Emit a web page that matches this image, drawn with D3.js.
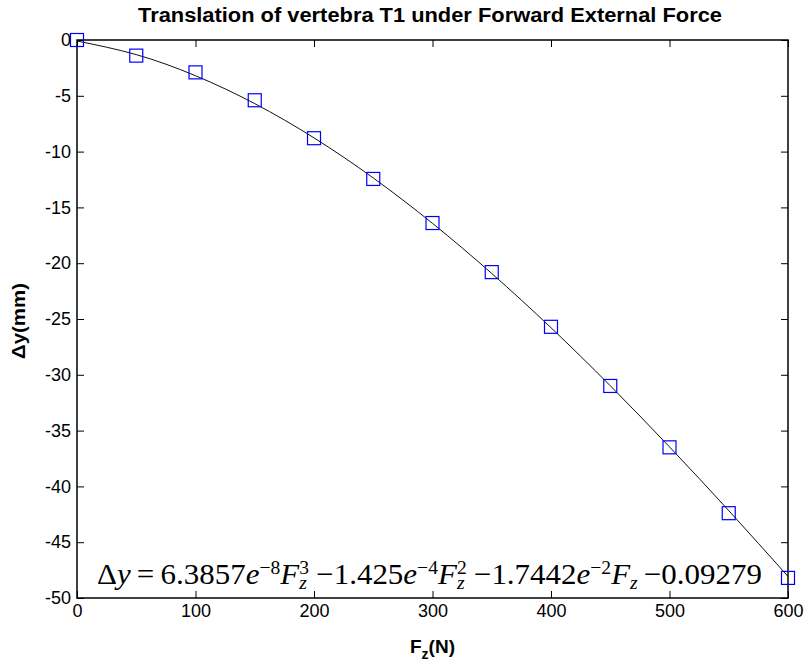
<!DOCTYPE html>
<html><head><meta charset="utf-8">
<script src="https://cdn.jsdelivr.net/npm/d3@7"></script>
<style>body{margin:0;background:#fff}</style>
</head><body>
<svg id="chart" width="808" height="664"></svg>
<script>
// ---- data ----
const forceN = [0, 50, 100, 150, 200, 250, 300, 350, 400, 450, 500, 550, 600];
const deltaY = [0, -1.4, -2.9, -5.4, -8.8, -12.45, -16.4, -20.8, -25.7, -31.0, -36.5, -42.4, -48.2];
const fitForce = [0, 50, 100, 150, 200, 250, 300, 350, 400, 450, 500, 550, 600];
const fitDeltaY = [-0.09, -1.31, -3.2, -5.7, -8.77, -12.36, -16.43, -20.92, -25.78, -30.98, -36.46, -42.17, -48.07];
const xTicks = [0, 100, 200, 300, 400, 500, 600];
const yTicks = [0, -5, -10, -15, -20, -25, -30, -35, -40, -45, -50];
const titleText = "Translation of vertebra T1 under Forward External Force";
const yLabelText = "\u0394y(mm)";
// equation pieces: text, style (n = normal, i = italic), role (m = main, sup, sub, supStack)
const eqText = ["\u0394", "y", "\u2009=\u2009", "6.3857", "e", "\u22128", "F", "z", "3", "\u2009\u2212", "1.425", "e", "\u22124", "F", "z", "2", "\u2009\u2212", "1.7442", "e", "\u22122", "F", "z", "\u2009\u2212", "0.09279"];
const eqStyle = ["n", "i", "n", "n", "i", "n", "i", "i", "n", "n", "n", "i", "n", "i", "i", "n", "n", "n", "i", "n", "i", "i", "n", "n"];
const eqRole = ["m", "m", "m", "m", "m", "sup", "m", "sub", "supStack", "m", "m", "m", "sup", "m", "sub", "supStack", "m", "m", "m", "sup", "m", "sub", "m", "m"];

// ---- layout ----
const W = 808, H = 664;
const margin = {left: 77, right: 20, top: 40, bottom: 66};
const svg = d3.select("#chart");
const pw = W - margin.left - margin.right;
const ph = H - margin.top - margin.bottom;
const g = svg.append("g").attr("transform", `translate(${margin.left},${margin.top})`);

const x = d3.scaleLinear().domain([0, 600]).range([0, pw]);
const y = d3.scaleLinear().domain([-50, 0]).range([ph, 0]);

const tickFont = "'Liberation Sans', Arial, Helvetica, sans-serif";

// axes with inward ticks
const ax = g.append("g").attr("transform", `translate(0,${ph})`)
  .call(d3.axisBottom(x).tickValues(xTicks).tickSize(-7).tickSizeOuter(0).tickPadding(6).tickFormat(d3.format("d")));
const ay = g.append("g")
  .call(d3.axisLeft(y).tickValues(yTicks).tickSize(-7).tickSizeOuter(0).tickPadding(6).tickFormat(d => d === 0 ? "0" : "-" + Math.abs(d)));
const axT = g.append("g")
  .call(d3.axisTop(x).tickValues(xTicks).tickSize(-7).tickSizeOuter(0).tickFormat(""));
const ayR = g.append("g").attr("transform", `translate(${pw},0)`)
  .call(d3.axisRight(y).tickValues(yTicks).tickSize(-7).tickSizeOuter(0).tickFormat(""));
[ax, ay, axT, ayR].forEach(a => {
  a.select(".domain").remove();
  a.selectAll("line").attr("stroke", "#000").attr("stroke-width", 1);
  a.selectAll("text").attr("font-family", tickFont).attr("font-size", 18).attr("fill", "#000");
});
g.append("rect").attr("x", 0).attr("y", 0).attr("width", pw).attr("height", ph)
  .attr("fill", "none").attr("stroke", "#000").attr("stroke-width", 1.5);

// fit curve
const line = d3.line().x((d, i) => x(fitForce[i])).y(d => y(d)).curve(d3.curveNatural);
g.append("path").datum(fitDeltaY).attr("d", line)
  .attr("fill", "none").attr("stroke", "#111").attr("stroke-width", 1);

// markers
const ms = 13;
g.selectAll("rect.mk").data(deltaY).enter().append("rect").attr("class", "mk")
  .attr("x", (d, i) => x(forceN[i]) - ms / 2).attr("y", d => y(d) - ms / 2)
  .attr("width", ms).attr("height", ms)
  .attr("fill", "none").attr("stroke", "#0000ff").attr("stroke-width", 1.2);

// title
svg.append("text").attr("x", 430).attr("y", 22).attr("text-anchor", "middle")
  .attr("font-family", tickFont).attr("font-weight", "bold").attr("font-size", 20)
  .attr("textLength", 584).attr("lengthAdjust", "spacingAndGlyphs").text(titleText);

// x label F_z(N)
const xl = svg.append("text").attr("x", margin.left + pw / 2).attr("y", 653).attr("text-anchor", "middle")
  .attr("font-family", tickFont).attr("font-weight", "bold").attr("font-size", 19);
xl.append("tspan").text("F");
xl.append("tspan").attr("font-size", 14).attr("dy", 6).text("z");
xl.append("tspan").attr("dy", -6).text("(N)");

// y label
svg.append("text").attr("transform", `translate(25,${margin.top + ph / 2 + 2}) rotate(-90)`)
  .attr("text-anchor", "middle").attr("font-family", tickFont).attr("font-weight", "bold")
  .attr("font-size", 18).attr("textLength", 76).attr("lengthAdjust", "spacingAndGlyphs").text(yLabelText);

// equation
const eqG = svg.append("g");
const eqFont = "'Liberation Serif', 'Times New Roman', Times, serif";
const mainSize = 30, smallSize = 19;
const eqStart = 97, eqEnd = 762;
let cx = 0, lastSubX = 0;
const base = 584;
eqText.forEach((t, i) => {
  const role = eqRole[i];
  const small = role !== "m";
  let px = cx, py = base;
  if (role === "sup") py = base - 10;
  if (role === "sub") { py = base + 5; lastSubX = cx; }
  if (role === "supStack") { px = lastSubX; py = base - 10; }
  const el = eqG.append("text").attr("x", px).attr("y", py)
    .attr("font-family", eqFont).attr("font-size", small ? smallSize : mainSize)
    .attr("font-style", eqStyle[i] === "i" ? "italic" : "normal")
    .style("white-space", "pre").text(t);
  const w = el.node().getComputedTextLength();
  if (role === "supStack") cx = Math.max(cx, px + w) + 1;
  else cx = px + w;
});
const eqW = cx;
eqG.attr("transform", `translate(${eqStart},0) scale(${(eqEnd - eqStart) / eqW},1)`);
</script>
</body></html>
